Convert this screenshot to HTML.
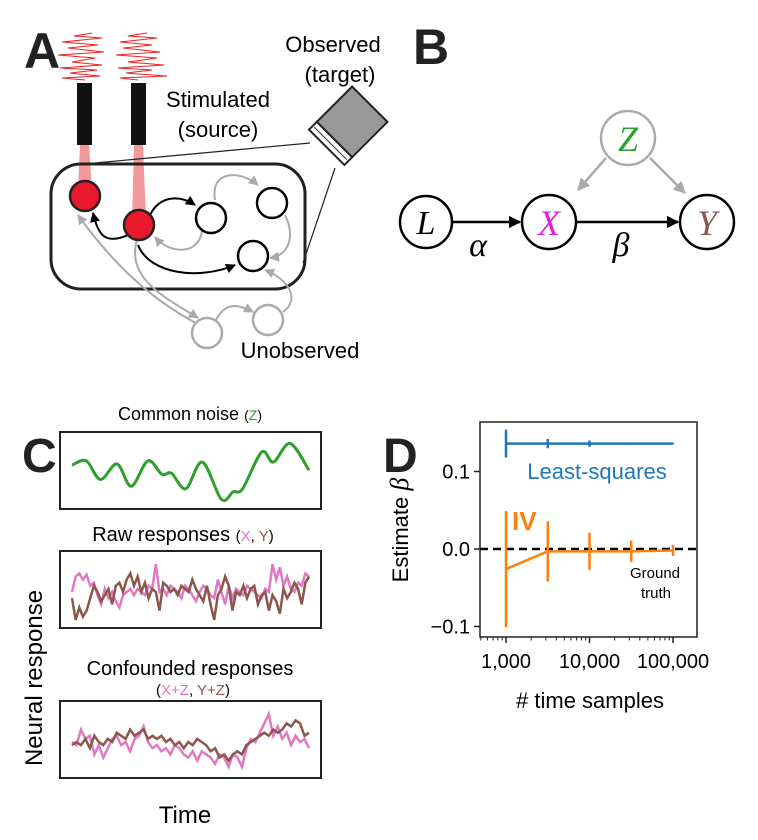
<!DOCTYPE html>
<html><head><meta charset="utf-8"><style>
html,body{margin:0;padding:0;background:#fff;}
svg{display:block;font-family:"Liberation Sans",sans-serif;}
</style></head><body>
<svg id="fig" width="758" height="840" viewBox="0 0 758 840" xmlns="http://www.w3.org/2000/svg">
<defs>
<marker id="ab" viewBox="0 0 10 10" refX="9" refY="5" markerWidth="5" markerHeight="5" orient="auto"><path d="M0,0L10,5L0,10z" fill="#000"/></marker>
<marker id="ag" viewBox="0 0 10 10" refX="9" refY="5" markerWidth="5" markerHeight="5" orient="auto"><path d="M0,0L10,5L0,10z" fill="#aaa"/></marker>
</defs>
<!-- Panel A -->
<g>
<text x="24" y="68" font-size="50" font-weight="bold" fill="#222">A</text>
<polyline fill="none" stroke="#e22" stroke-width="1" points="85,80 62,78 100,76 70,73 97,70 60,68 102,65 72,62 95,58 58,55 104,52 68,48 98,45 62,42 102,38 74,36 92,33"/>
<polyline fill="none" stroke="#e22" stroke-width="1" points="138,80 120,78 167,76 126,73 152,70 118,68 164,65 128,62 157,58 116,55 160,52 123,48 152,45 120,42 157,38 128,36 147,33"/>
<rect x="77" y="83" width="15" height="62" fill="#111"/>
<rect x="131" y="83" width="15" height="62" fill="#111"/>
<polygon points="80,145 89,145 92,190 78,190" fill="#f08080" opacity="0.8"/>
<polygon points="134,145 143,145 146,220 132,220" fill="#f08080" opacity="0.8"/>
<text x="218" y="107" font-size="22" text-anchor="middle">Stimulated</text>
<text x="218" y="137" font-size="22" text-anchor="middle">(source)</text>
<text x="333" y="52" font-size="22" text-anchor="middle">Observed</text>
<text x="340" y="82" font-size="22" text-anchor="middle">(target)</text>
<line x1="95" y1="163" x2="310" y2="143" stroke="#222" stroke-width="1.2"/>
<line x1="303" y1="263" x2="335" y2="168" stroke="#222" stroke-width="1.2"/>
<g transform="translate(350,124) rotate(45)">
<rect x="-25" y="-28" width="50" height="50" fill="#999" stroke="#222" stroke-width="2"/>
<rect x="-25" y="22" width="50" height="11" fill="#fff" stroke="#222" stroke-width="2"/>
<line x1="-23" y1="27.5" x2="23" y2="27.5" stroke="#222"/>
</g>
<rect x="51" y="164" width="254" height="125" rx="30" fill="none" stroke="#222" stroke-width="3"/>
<g fill="none" stroke="#aaa" stroke-width="2">
<path d="M215,200 C210,170 240,170 258,185" marker-end="url(#ag)"/>
<path d="M202,230 C200,255 170,255 155,237" marker-end="url(#ag)"/>
<path d="M285,215 C295,235 290,255 270,258" marker-end="url(#ag)"/>
<path d="M200,325 C150,300 110,260 78,215" marker-end="url(#ag)"/>
<path d="M137,240 C125,280 170,300 198,318" marker-end="url(#ag)"/>
<path d="M215,322 C225,300 240,305 253,312" marker-end="url(#ag)"/>
<path d="M283,312 C300,300 290,280 265,270" marker-end="url(#ag)"/>
</g>
<g fill="none" stroke="#000" stroke-width="2">
<path d="M150,215 C160,195 180,195 195,205" marker-end="url(#ab)"/>
<path d="M128,235 C105,245 98,235 93,213" marker-end="url(#ab)"/>
<path d="M138,245 C150,275 200,280 235,265" marker-end="url(#ab)"/>
</g>
<circle cx="85" cy="196" r="15" fill="#e8192c" stroke="#222" stroke-width="2.5"/>
<circle cx="139" cy="225" r="15" fill="#e8192c" stroke="#222" stroke-width="2.5"/>
<circle cx="211" cy="218" r="15" fill="#fff" stroke="#000" stroke-width="2.5"/>
<circle cx="272" cy="203" r="15" fill="#fff" stroke="#000" stroke-width="2.5"/>
<circle cx="253" cy="256" r="15" fill="#fff" stroke="#000" stroke-width="2.5"/>
<circle cx="207" cy="333" r="15" fill="#fff" stroke="#aaa" stroke-width="2.5"/>
<circle cx="268" cy="320" r="15" fill="#fff" stroke="#aaa" stroke-width="2.5"/>
<text x="300" y="358" font-size="22" text-anchor="middle">Unobserved</text>
</g>
<!-- Panel B -->
<g font-family="Liberation Serif,serif" font-style="italic">
<text x="413" y="64" font-size="50" font-weight="bold" font-style="normal" font-family="Liberation Sans,sans-serif" fill="#222">B</text>
<line x1="606" y1="158" x2="578" y2="190" stroke="#aaa" stroke-width="2.5" marker-end="url(#ag)"/>
<line x1="650" y1="158" x2="685" y2="193" stroke="#aaa" stroke-width="2.5" marker-end="url(#ag)"/>
<line x1="452" y1="222" x2="520" y2="222" stroke="#000" stroke-width="2.5" marker-end="url(#ab)"/>
<line x1="576" y1="222" x2="678" y2="222" stroke="#000" stroke-width="2.5" marker-end="url(#ab)"/>
<circle cx="426" cy="222" r="26" fill="#fff" stroke="#000" stroke-width="2.5"/>
<circle cx="549" cy="222" r="27" fill="#fff" stroke="#000" stroke-width="2.5"/>
<circle cx="707" cy="222" r="27" fill="#fff" stroke="#000" stroke-width="2.5"/>
<circle cx="628" cy="138" r="27" fill="#fff" stroke="#aaa" stroke-width="2.5"/>
<text x="426" y="234" font-size="34" text-anchor="middle">L</text>
<text x="549" y="235" font-size="36" text-anchor="middle" fill="#e020e0">X</text>
<text x="707" y="235" font-size="36" text-anchor="middle" fill="#8c564b">Y</text>
<text x="628" y="151" font-size="36" text-anchor="middle" fill="#2ca02c">Z</text>
<text x="478" y="256" font-size="34" text-anchor="middle">α</text>
<text x="621" y="256" font-size="34" text-anchor="middle">β</text>
</g>
<!-- Panel C -->
<g id="panelC">
<text x="22" y="472" font-size="48" font-weight="bold" fill="#222">C</text>
<text x="190" y="420" font-size="18" text-anchor="middle">Common noise <tspan font-size="14">(<tspan fill="#2ca02c">Z</tspan>)</tspan></text>
<text x="183" y="541" font-size="20" text-anchor="middle">Raw responses <tspan font-size="15">(<tspan fill="#e377c2">X</tspan>, <tspan fill="#8c564b">Y</tspan>)</tspan></text>
<text x="190" y="675" font-size="20" text-anchor="middle">Confounded responses</text>
<text x="193" y="695" font-size="15" text-anchor="middle">(<tspan fill="#e377c2">X+Z</tspan>, <tspan fill="#8c564b">Y+Z</tspan>)</text>
<rect x="60" y="432" width="261" height="77" fill="none" stroke="#222" stroke-width="2"/>
<rect x="60" y="551" width="261" height="77" fill="none" stroke="#222" stroke-width="2"/>
<rect x="60" y="701" width="261" height="77" fill="none" stroke="#222" stroke-width="2"/>
<text x="185" y="823" font-size="24" text-anchor="middle">Time</text>
<text transform="translate(42,678) rotate(-90)" font-size="24" text-anchor="middle">Neural response</text>
</g>
<!-- Panel D -->
<g id="panelD">
<text x="383" y="472" font-size="48" font-weight="bold" fill="#222">D</text>
<rect x="480" y="422" width="217" height="215" fill="none" stroke="#222" stroke-width="1.5"/>
<text transform="translate(408,530) rotate(-90)" font-size="22" text-anchor="middle">Estimate <tspan font-family="Liberation Serif,serif" font-style="italic" font-size="26">β</tspan></text>
<text x="590" y="708" font-size="22" text-anchor="middle"># time samples</text>
<text x="597" y="479" font-size="22" text-anchor="middle" fill="#1f77b4">Least-squares</text>
<text x="512" y="530" font-size="26" font-weight="bold" fill="#ff7f0e">IV</text>
<text x="655" y="578" font-size="15" text-anchor="middle">Ground</text>
<text x="656" y="598" font-size="15" text-anchor="middle">truth</text>
</g>
</svg>
<script>
// ---- Panel C data (values 0..1, bottom to top) ----
const noiseT = [0,0.06,0.12,0.19,0.25,0.32,0.38,0.42,0.48,0.55,0.63,0.68,0.72,0.8,0.85,0.92,1];
const noiseZ = [0.61,0.68,0.38,0.63,0.27,0.68,0.46,0.48,0.23,0.66,0.06,0.18,0.23,0.82,0.66,0.96,0.53];
const rawX = [0.5,0.75,0.8,0.7,0.78,0.6,0.65,0.45,0.3,0.55,0.4,0.5,0.35,0.25,0.45,0.5,0.55,0.45,0.55,0.5,0.45,0.6,0.55,0.95,0.5,0.55,0.45,0.6,0.55,0.5,0.4,0.6,0.55,0.45,0.35,0.5,0.6,0.55,0.45,0.4,0.7,0.5,0.3,0.6,0.4,0.55,0.5,0.45,0.6,0.55,0.5,0.45,0.4,0.55,0.5,0.95,0.7,0.9,0.6,0.75,0.55,0.5,0.65,0.6,0.8,0.75];
const rawY = [0.4,0.05,0.25,0.1,0.2,0.4,0.6,0.5,0.35,0.45,0.55,0.3,0.6,0.65,0.5,0.7,0.8,0.6,0.75,0.5,0.65,0.4,0.55,0.5,0.2,0.65,0.6,0.5,0.55,0.45,0.6,0.55,0.5,0.7,0.55,0.45,0.35,0.6,0.3,0.05,0.45,0.55,0.75,0.6,0.2,0.5,0.45,0.6,0.4,0.55,0.6,0.3,0.45,0.5,0.2,0.45,0.35,0.15,0.55,0.4,0.5,0.65,0.55,0.3,0.65,0.75];
const confX = [0.5,0.45,0.7,0.55,0.6,0.3,0.45,0.25,0.4,0.55,0.6,0.45,0.5,0.35,0.55,0.6,0.75,0.5,0.4,0.45,0.35,0.4,0.3,0.45,0.4,0.3,0.25,0.35,0.2,0.35,0.3,0.25,0.15,0.3,0.25,0.1,0.3,0.25,0.1,0.4,0.55,0.5,0.65,0.8,0.95,0.6,0.75,0.55,0.65,0.45,0.6,0.5,0.55,0.4];
const confY = [0.45,0.5,0.45,0.55,0.4,0.6,0.5,0.45,0.55,0.5,0.65,0.6,0.55,0.7,0.6,0.65,0.7,0.55,0.6,0.55,0.6,0.5,0.55,0.45,0.5,0.4,0.5,0.45,0.55,0.5,0.45,0.35,0.4,0.25,0.3,0.2,0.3,0.35,0.3,0.45,0.5,0.55,0.6,0.65,0.6,0.7,0.65,0.7,0.8,0.75,0.85,0.8,0.6,0.65];
// ---- Panel D data ----
const nSamples = [1000, 3162, 10000, 31623, 100000];
const lsMean = [0.136, 0.136, 0.136, 0.136, 0.136];
const lsErr = [0.018, 0.006, 0.004, 0.0015, 0.0008];
const ivMean = [-0.026, -0.003, -0.003, -0.003, -0.002];
const ivErr = [0.075, 0.039, 0.024, 0.014, 0.007];
const groundTruth = 0;
const yTicks = [0.1, 0.0, -0.1];
const yTickLabels = ["0.1", "0.0", "\u22120.1"];
const xTicks = [1000, 10000, 100000];
const xTickLabels = ["1,000", "10,000", "100,000"];

const NS = "http://www.w3.org/2000/svg";
function mk(tag, attrs, parent) {
  const e = document.createElementNS(NS, tag);
  for (const k in attrs) e.setAttribute(k, attrs[k]);
  parent.appendChild(e);
  return e;
}
const C = document.getElementById('panelC');
const D = document.getElementById('panelD');

function boxScale(top) {
  return {
    x: t => 72 + t * 237,
    y: v => top + 70 - v * 62
  };
}
function seriesPts(vals, sc) {
  return vals.map((v, i) => [sc.x(i / (vals.length - 1)), sc.y(v)]);
}
const s1 = boxScale(433);
const gp = noiseT.map((t, i) => [s1.x(t), s1.y(noiseZ[i])]);
let d = "M" + gp[0][0] + "," + gp[0][1];
for (let i = 0; i < gp.length - 1; i++) {
  const p0 = gp[Math.max(0, i - 1)], p1 = gp[i], p2 = gp[i + 1], p3 = gp[Math.min(gp.length - 1, i + 2)];
  d += " C" + (p1[0] + (p2[0] - p0[0]) / 6) + "," + (p1[1] + (p2[1] - p0[1]) / 6) + " " + (p2[0] - (p3[0] - p1[0]) / 6) + "," + (p2[1] - (p3[1] - p1[1]) / 6) + " " + p2[0] + "," + p2[1];
}
const gpath = mk('path', {d: d, fill: 'none', stroke: '#2ca02c', 'stroke-width': 3}, C);



const s2 = boxScale(553);
const rx = mk('polyline', {points: seriesPts(rawX, s2).join(' '), fill: 'none', stroke: '#e377c2', 'stroke-width': 2.5}, C);


const ry = mk('polyline', {points: seriesPts(rawY, s2).join(' '), fill: 'none', stroke: '#8c564b', 'stroke-width': 2.5}, C);


const s3 = boxScale(703);
const cx = mk('polyline', {points: seriesPts(confX, s3).join(' '), fill: 'none', stroke: '#e377c2', 'stroke-width': 2.5}, C);


const cy = mk('polyline', {points: seriesPts(confY, s3).join(' '), fill: 'none', stroke: '#8c564b', 'stroke-width': 2.5}, C);



const X = n => 506 + (Math.log10(n) - 3) * 83.5;
const Y = v => 549 - v * 775;
yTicks.forEach((v, i) => {
  mk('line', {x1: 474, x2: 480, y1: Y(v), y2: Y(v), stroke: '#222', 'stroke-width': 1.5}, D);
  const t = mk('text', {x: 470, y: Y(v) + 7, 'font-size': 20, 'text-anchor': 'end'}, D);
  t.textContent = yTickLabels[i];
  
  
});
for (let e = 2; e <= 5; e++) {
  for (let m = 1; m <= 9; m++) {
    const n = m * Math.pow(10, e);
    if (n < 500 || n > 100000) continue;
    const major = m === 1;
    mk('line', {x1: X(n), x2: X(n), y1: 637, y2: 637 + (major ? 6 : 3.5), stroke: '#222', 'stroke-width': major ? 1.5 : 1}, D);
  }
}
xTicks.forEach((n, i) => {
  const t = mk('text', {x: X(n), y: 668, 'font-size': 20, 'text-anchor': 'middle'}, D);
  t.textContent = xTickLabels[i];
  
  
});
const gt = mk('line', {x1: 480, x2: 697, y1: Y(groundTruth), y2: Y(groundTruth), stroke: '#000', 'stroke-width': 2.5, 'stroke-dasharray': '8,5'}, D);



function series(mean, err, color, name) {
  const pl = mk('polyline', {points: nSamples.map((n, i) => X(n) + ',' + Y(mean[i])).join(' '), fill: 'none', stroke: color, 'stroke-width': 2.5}, D);
  
  
  nSamples.forEach((n, i) => {
    const eb = mk('line', {x1: X(n), x2: X(n), y1: Y(mean[i] + err[i]), y2: Y(mean[i] - err[i]), stroke: color, 'stroke-width': 2.5}, D);
    
    
  });
}
series(lsMean, lsErr, '#1f77b4', 'least-squares');
series(ivMean, ivErr, '#ff7f0e', 'iv');
</script>
</body></html>
